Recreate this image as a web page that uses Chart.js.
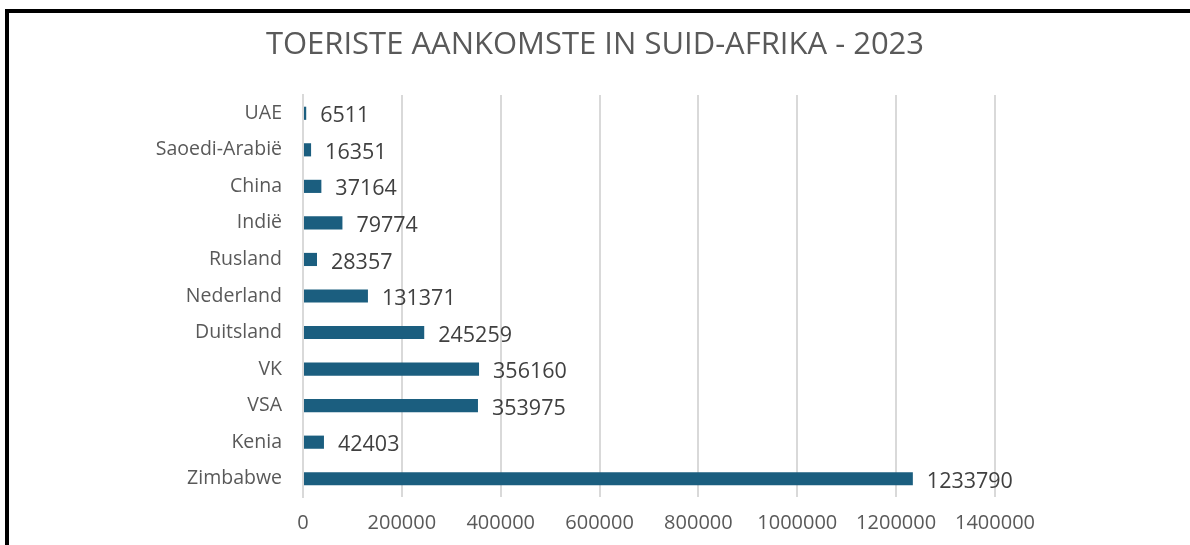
<!DOCTYPE html>
<html>
<head>
<meta charset="utf-8">
<script src="https://cdn.jsdelivr.net/npm/chart.js@4"></script>
<style>
    html, body { margin: 0; padding: 0; background: #fff; }
    #wrap { position: relative; width: 1190px; height: 545px; overflow: hidden; }
    #frame { position: absolute; left: 5px; top: 9px; width: 1190px; height: 545px;
             border-left: 4px solid #000; border-top: 4px solid #000; pointer-events: none; }
    #title { position: absolute; left: 0; width: 1190px; top: 21px; text-align: center;
             font: 31px "Open Sans", sans-serif; color: #595959; line-height: 42px; }
    canvas { position: absolute; left: 0; top: 0; }
</style>
</head>
<body>
<div id="wrap">
    <canvas id="chart" width="1190" height="545"></canvas>
    <div id="title"></div>
    <div id="frame"></div>
</div>
<script>
// lande van bo na onder
const countries = ['UAE', 'Saoedi-Arabië', 'China', 'Indië', 'Rusland', 'Nederland', 'Duitsland', 'VK', 'VSA', 'Kenia', 'Zimbabwe'];
const arrivals = [6511, 16351, 37164, 79774, 28357, 131371, 245259, 356160, 353975, 42403, 1233790];
const chartTitle = 'TOERISTE AANKOMSTE IN SUID-AFRIKA - 2023';

const fontFamily = '"Open Sans", sans-serif';

document.getElementById('title').textContent = chartTitle;

// waardes regs van die stawe
const valueLabels = {
    id: 'valueLabels',
    afterDatasetsDraw(chart) {
        const ctx = chart.ctx;
        const meta = chart.getDatasetMeta(0);
        ctx.save();
        ctx.font = '21.5px ' + fontFamily;
        ctx.fillStyle = '#404040';
        ctx.textAlign = 'left';
        ctx.textBaseline = 'middle';
        meta.data.forEach((bar, i) => {
            ctx.fillText(String(chart.data.datasets[0].data[i]), bar.x + 14, bar.y + 3);
        });
        ctx.restore();
    }
};

new Chart(document.getElementById('chart').getContext('2d'), {
    type: 'bar',
    data: {
        labels: countries,
        datasets: [{
            data: arrivals,
            backgroundColor: '#1b5e7f',
            categoryPercentage: 1,
            barPercentage: 0.36
        }]
    },
    options: {
        indexAxis: 'y',
        responsive: false,
        animation: false,
        layout: { padding: { left: 10, right: 195, top: 95, bottom: 0 } },
        plugins: {
            legend: { display: false },
            tooltip: { enabled: false },
            title: { display: false }
        },
        scales: {
            x: {
                min: 0,
                max: 1400000,
                ticks: {
                    stepSize: 200000,
                    color: '#595959',
                    font: { family: fontFamily, size: 20 },
                    padding: 14,
                    maxRotation: 0,
                    callback: (v) => String(v)
                },
                grid: { color: '#d9d9d9', lineWidth: 2, drawTicks: false },
                border: { display: false },
                afterFit(scale) { scale.height = 48; }
            },
            y: {
                ticks: {
                    color: '#595959',
                    font: { family: fontFamily, size: 19.5 },
                    padding: 21
                },
                grid: { display: false, drawTicks: false },
                border: { display: true, color: '#d9d9d9', width: 2 },
                afterFit(scale) { scale.width = 293; }
            }
        }
    },
    plugins: [valueLabels]
});
</script>
</body>
</html>
